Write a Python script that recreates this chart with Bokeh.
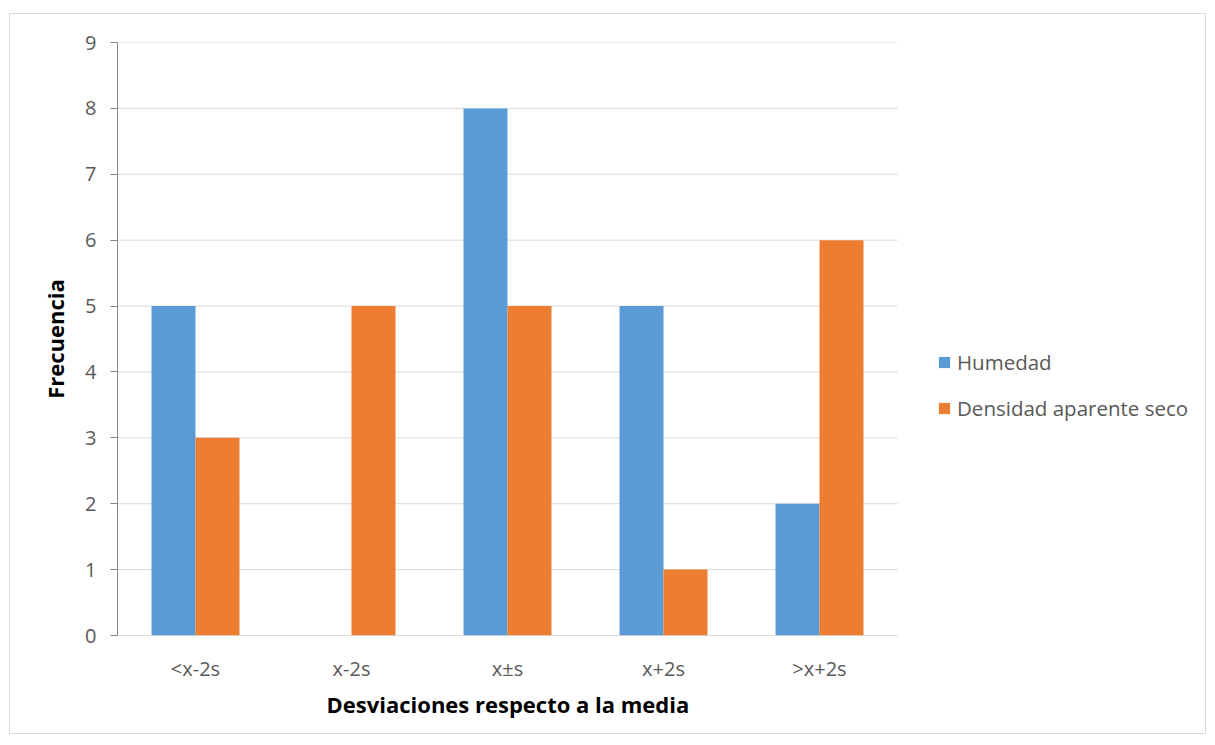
from bokeh.plotting import figure
from bokeh.models import (ColumnDataSource, Range1d, Legend, LegendItem, FixedTicker, Title)
from bokeh.embed import file_html
from bokeh.resources import INLINE

categories = ["<x-2s", "x-2s", "x\u00b1s", "x+2s", ">x+2s"]
humedad = [5, 0, 8, 5, 2]
densidad = [3, 5, 5, 1, 6]
series_names = ["Humedad", "Densidad aparente seco"]
y_ticks = [0, 1, 2, 3, 4, 5, 6, 7, 8, 9]
x_title = "Desviaciones respecto a la media"
y_title = "Frecuencia"

BLUE = "#5B9BD5"
ORANGE = "#ED7D31"
FONT = "Open Sans"

# category slots sit at 0.5, 1.5, ... ; the frame continues to the right
# to leave room for the legend beside the plot area
n = len(categories)
centers = [i + 0.5 for i in range(n)]
bw = 0.282
slot_px = 156
frame_w = 1090

source = ColumnDataSource(data=dict(
    xh=[c - bw / 2 for c in centers],
    xd=[c + bw / 2 for c in centers],
    hum=humedad, den=densidad,
))

p = figure(
    x_range=Range1d(0, frame_w / slot_px),
    y_range=Range1d(0, max(y_ticks)),
    width=1197, height=721,
    min_border_left=107, min_border_right=0,
    min_border_top=28, min_border_bottom=100,
    output_backend="svg", toolbar_location=None,
    background_fill_color="white", border_fill_color="white",
    styles={"margin-left": "9px", "margin-top": "13px",
            "border": "1px solid #D9D9D9"},
)
p.outline_line_color = None
p.xgrid.grid_line_color = None
p.ygrid.grid_line_color = None

# horizontal gridlines across the category slots only
p.segment(x0=[0] * len(y_ticks), x1=[n] * len(y_ticks), y0=y_ticks, y1=y_ticks,
          line_color="#D9D9D9", line_width=1, level="underlay")
# category axis baseline
p.segment(x0=[0], x1=[n], y0=[0], y1=[0], line_color="#D0D0D0", line_width=1)

r1 = p.vbar(x="xh", top="hum", width=bw, source=source,
            fill_color=BLUE, line_color=None)
r2 = p.vbar(x="xd", top="den", width=bw, source=source,
            fill_color=ORANGE, line_color=None)

# y axis
p.yaxis.ticker = FixedTicker(ticks=y_ticks)
p.yaxis.minor_tick_line_color = None
p.yaxis.major_tick_in = 0
p.yaxis.major_tick_out = 7
p.yaxis.major_tick_line_color = "#868686"
p.yaxis.axis_line_color = "#868686"
p.yaxis.major_label_text_font = FONT
p.yaxis.major_label_text_font_size = "20px"
p.yaxis.major_label_text_color = "#595959"
p.yaxis.major_label_standoff = 14
p.yaxis.axis_label = y_title
p.yaxis.axis_label_text_font = FONT
p.yaxis.axis_label_text_font_size = "22px"
p.yaxis.axis_label_text_font_style = "bold"
p.yaxis.axis_label_text_color = "black"
p.yaxis.axis_label_standoff = 12

# x axis: category names at the slot centres
p.xaxis.ticker = FixedTicker(ticks=centers)
p.xaxis.major_label_overrides = {c: lab for c, lab in zip(centers, categories)}
p.xaxis.major_tick_line_color = None
p.xaxis.minor_tick_line_color = None
p.xaxis.axis_line_color = None
p.xaxis.major_label_text_font = FONT
p.xaxis.major_label_text_font_size = "20px"
p.xaxis.major_label_text_color = "#595959"
p.xaxis.major_label_standoff = 13

# x axis title, centred under the category slots
p.add_layout(Title(text=x_title, align="left", offset=209,
                   text_font=FONT, text_font_size="22px",
                   text_font_style="bold", text_color="black",
                   standoff=4), "below")

legend = Legend(
    items=[LegendItem(label=series_names[0], renderers=[r1]),
           LegendItem(label=series_names[1], renderers=[r2])],
    location=(820, 213),
    border_line_color=None, background_fill_alpha=0,
    glyph_width=14, glyph_height=14, label_text_font=FONT,
    label_text_font_size="20.5px", label_text_color="#595959",
    spacing=18, label_standoff=6, padding=6, margin=0,
)
p.add_layout(legend, "center")

open("out.html", "w").write(file_html(p, INLINE))
